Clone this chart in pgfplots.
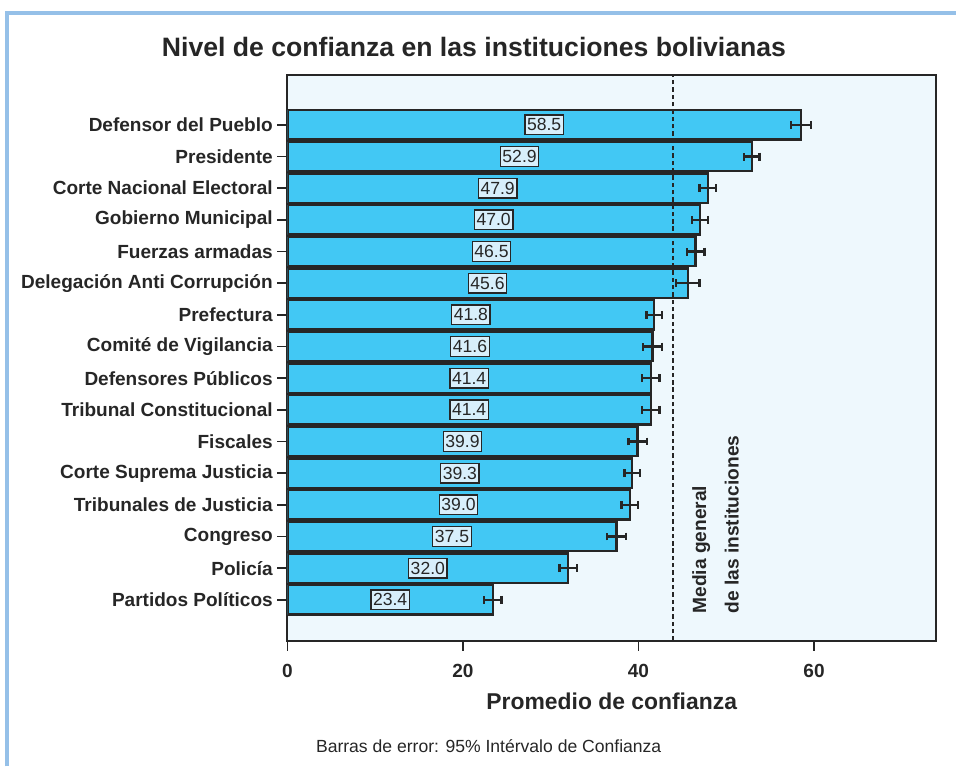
\documentclass[border=0pt]{standalone}
\usepackage{pgfplots}
\pgfplotsset{compat=1.18}
\usepackage{pgfplotstable}
\usepackage{fontspec}
\setmainfont{Liberation Sans}

\definecolor{barblue}{HTML}{42C8F4}
\definecolor{panel}{HTML}{EEF8FD}
\definecolor{valbox}{HTML}{D8EFFB}
\definecolor{frameblue}{HTML}{95C0E8}
\definecolor{ink}{HTML}{262626}

% y = position from bottom, v = promedio, e = half-width of 95% CI
\pgfplotstableread{
y v e
16 58.5 1.15
15 52.9 0.90
14 47.9 0.95
13 47.0 0.90
12 46.5 1.00
11 45.6 1.35
10 41.8 0.90
9 41.6 1.10
8 41.4 1.00
7 41.4 1.00
6 39.9 1.05
5 39.3 0.90
4 39.0 0.95
3 37.5 1.10
2 32.0 1.00
1 23.4 1.00
}\confianza

\begin{document}
\begin{tikzpicture}[x=0.75pt,y=0.75pt]
\path (0,0) rectangle (958,-768);
\draw[frameblue, line width=3pt] (7,-768) -- (7,-13) -- (958,-13);
\node[font=\bfseries\fontsize{20}{22}\selectfont, anchor=base, text=ink] at (475,-57)
  {Nivel de confianza en las instituciones bolivianas};
\node[font=\fontsize{13.2}{15}\selectfont, anchor=base west, text=ink] at (312,-754)
  {Barras de error: 95\% Intérvalo de Confianza};

\begin{axis}[
    at={(216pt,-481.5pt)}, anchor=south west,
    width=487.5pt, height=425.25pt, scale only axis,
    xmin=0, xmax=73.9, ymin=-0.29, ymax=17.58,
    axis background/.style={fill=panel},
    axis line style={line width=1.4pt, ink},
    tick align=outside, tick pos=left,
    major tick length=7.5pt,
    tick style={line width=1.1pt, ink},
    xtick={0,20,40,60},
    ytick={1,...,16},
    yticklabels={Partidos Políticos, Policía, Congreso, Tribunales de Justicia,
      Corte Suprema Justicia, Fiscales, Tribunal Constitucional, Defensores Públicos,
      Comité de Vigilancia, Prefectura, Delegación Anti Corrupción, Fuerzas armadas,
      Gobierno Municipal, Corte Nacional Electoral, Presidente, Defensor del Pueblo},
    /pgf/number format/assume math mode=true,
    ticklabel style={font=\bfseries\fontsize{14.3}{16}\selectfont, text=ink},
    xticklabel style={yshift=-7pt},
    xlabel={Promedio de confianza},
    xlabel style={font=\bfseries\fontsize{17.2}{19}\selectfont, text=ink, yshift=-4.5pt},
]
\addplot[xbar, bar width=0.93, fill=barblue, draw=ink, line width=1.7pt,
    error bars/.cd, x dir=both, x explicit,
    error mark=|,
    error bar style={line width=1.8pt, ink},
    error mark options={line width=1.8pt, mark size=3pt, ink}]
  table[x=v, y=y, x error=e] {\confianza};

% media general de las instituciones
\addplot[ink, line width=1.4pt, dash pattern=on 3.3pt off 2.2pt]
  coordinates {(43.9,-0.29) (43.9,17.58)};

% value boxes at the middle of each bar
\addplot[draw=none, mark=none, point meta=explicit,
    nodes near coords={\pgfmathprintnumber[fixed,zerofill,precision=1]{\pgfplotspointmeta}},
    every node near coord/.append style={anchor=center, fill=valbox, draw=ink,
      line width=1pt, inner xsep=1.6pt, inner ysep=2.8pt,
      font=\fontsize{13.2}{15}\selectfont, text=ink}]
  table[x expr=\thisrow{v}/2, y=y, meta=v] {\confianza};

\node[rotate=90, anchor=base west, inner sep=0pt, font=\bfseries\fontsize{14.4}{16}\selectfont, text=ink]
  at (axis cs:47.7,0.56) {Media general};
\node[rotate=90, anchor=base west, inner sep=0pt, font=\bfseries\fontsize{14.4}{16}\selectfont, text=ink]
  at (axis cs:51.4,0.56) {de las instituciones};
\end{axis}
\end{tikzpicture}
\end{document}
